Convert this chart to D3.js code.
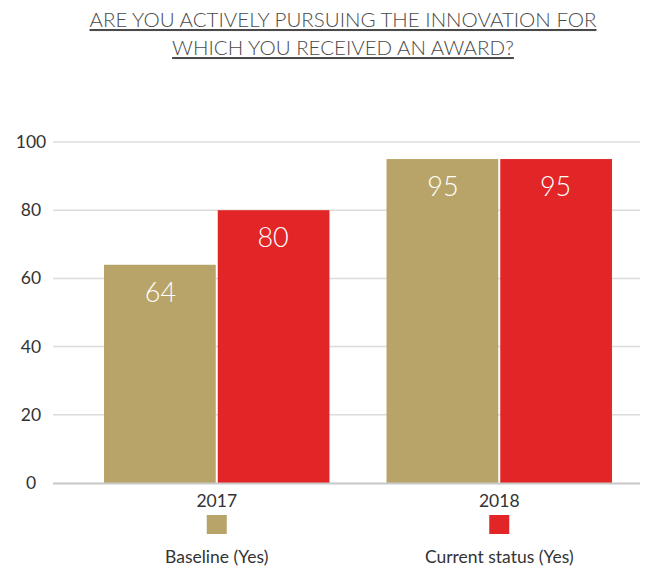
<!DOCTYPE html>
<html>
<head>
<meta charset="utf-8">
<script src="https://cdn.jsdelivr.net/npm/d3@7"></script>
<style>
  html, body { margin: 0; padding: 0; background: #fff; }
  svg { display: block; }
  text { font-family: Lato, "Open Sans", sans-serif; }
</style>
</head>
<body>
<svg id="chart" width="646" height="569"></svg>
<script>
// Survey answers, share answering "Yes" (%)
const years = ["2017", "2018"];
const seriesNames = ["Baseline (Yes)", "Current status (Yes)"];
const baseline = [64, 95];
const currentStatus = [80, 95];
const yTicks = [0, 20, 40, 60, 80, 100];
const titleLines = ["ARE YOU ACTIVELY PURSUING THE INNOVATION FOR ", "WHICH YOU RECEIVED AN AWARD?"];
const colors = ["#b8a468", "#e22526"];

const rows = years.map((y, i) => ({ year: y, values: [baseline[i], currentStatus[i]] }));

const svg = d3.select("#chart");

// Title with underline under each line
const title = svg.append("g");
titleLines.forEach((line, i) => {
  title.append("text")
    .attr("x", 343).attr("y", 27 + i * 28)
    .attr("text-anchor", "middle")
    .attr("font-size", 20.5).attr("font-weight", 300)
    .attr("fill", "#4a4a4a")
    .attr("text-decoration", "underline")
    .text(line);
});

const x0 = d3.scaleBand().domain(years).range([75.5, 640.5])
  .paddingInner(0.202).paddingOuter(0.101);
const x1 = d3.scaleBand().domain([0, 1]).range([0, x0.bandwidth()]);
const y = d3.scaleLinear().domain([0, 100]).range([483, 142]);

// Gridlines
svg.append("g").selectAll("line").data(yTicks.filter(d => d > 0)).join("line")
  .attr("x1", 53).attr("x2", 640)
  .attr("y1", d => y(d)).attr("y2", d => y(d))
  .attr("stroke", "#dcdcdc").attr("stroke-width", 1.5);

// Y axis labels
svg.append("g").selectAll("text").data(yTicks).join("text")
  .attr("x", 31).attr("y", d => y(d) + 6)
  .attr("text-anchor", "middle")
  .attr("font-size", 17.5).attr("fill", "#333")
  .text(d => d);

// Bars
const groups = svg.append("g").selectAll("g").data(rows).join("g")
  .attr("transform", d => `translate(${x0(d.year)},0)`);

groups.selectAll("rect").data(d => d.values).join("rect")
  .attr("x", (d, i) => x1(i) + (i === 1 ? 1 : 0))
  .attr("width", x1.bandwidth() - 1)
  .attr("y", d => y(d))
  .attr("height", d => y(0) - y(d))
  .attr("fill", (d, i) => colors[i]);

groups.selectAll("text").data(d => d.values).join("text")
  .attr("x", (d, i) => x1(i) + x1.bandwidth() / 2)
  .attr("y", d => y(d) + 37)
  .attr("text-anchor", "middle")
  .attr("font-size", 27).attr("font-weight", 300)
  .attr("fill", "#fff")
  .text(d => d);

// Baseline
svg.append("line")
  .attr("x1", 53).attr("x2", 640)
  .attr("y1", y(0) + 0.5).attr("y2", y(0) + 0.5)
  .attr("stroke", "#c8c8c8").attr("stroke-width", 2);

// Year labels
svg.append("g").selectAll("text").data(years).join("text")
  .attr("x", d => x0(d) + x0.bandwidth() / 2)
  .attr("y", 507)
  .attr("text-anchor", "middle")
  .attr("font-size", 17.5).attr("fill", "#333")
  .text(d => d);

// Legend, one entry under each year group
const legend = svg.append("g").selectAll("g").data(seriesNames).join("g")
  .attr("transform", (d, i) => `translate(${x0(years[i]) + x0.bandwidth() / 2},0)`);
legend.append("rect")
  .attr("x", -10).attr("y", 515).attr("width", 20).attr("height", 19)
  .attr("fill", (d, i) => colors[i]);
legend.append("text")
  .attr("x", 0).attr("y", 563)
  .attr("text-anchor", "middle")
  .attr("font-size", 17.5).attr("fill", "#333")
  .text(d => d);
</script>
</body>
</html>
